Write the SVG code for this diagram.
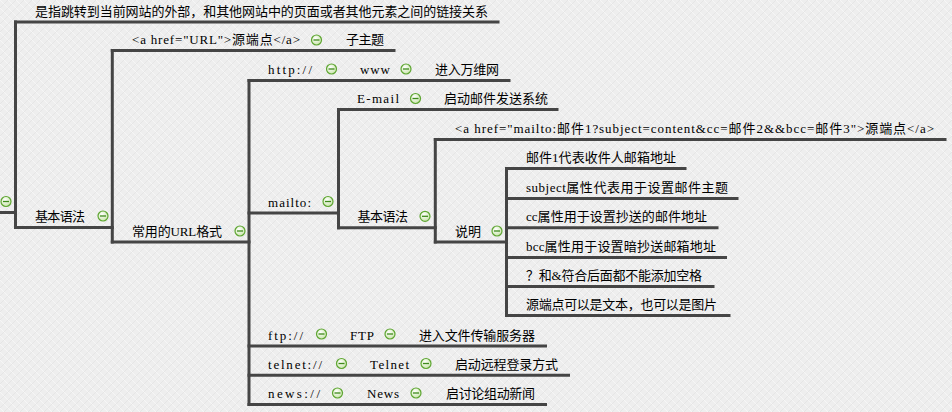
<svg xmlns="http://www.w3.org/2000/svg" xmlns:xlink="http://www.w3.org/1999/xlink" width="952" height="412" viewBox="0 0 952 412">
<style>
.t{font-family:"Liberation Serif","Noto Sans CJK SC",serif;font-size:13px;fill:#000;}
.ln{stroke:#454545;stroke-width:3;fill:none;stroke-linecap:square;stroke-linejoin:miter;}
</style>
<defs>
<pattern id="bg" width="8" height="8" patternUnits="userSpaceOnUse">
<rect width="8" height="8" fill="#eeeeee"/>
<path d="M0 8 L8 0" stroke="#e2e2e2" stroke-width="0.8"/>
<path d="M0 0 L8 8" stroke="#f7f7f7" stroke-width="0.8"/>
</pattern>
<radialGradient id="ig" cx="0.4" cy="0.35" r="0.7">
<stop offset="0" stop-color="#ffffff"/>
<stop offset="1" stop-color="#c6e3a6"/>
</radialGradient>
<g id="minus">
<circle r="5" fill="url(#ig)" stroke="#5ea632" stroke-width="1.2"/>
<line x1="-3" y1="0" x2="3" y2="0" stroke="#3f8a1c" stroke-width="1.3"/>
</g>
</defs>
<rect width="952" height="412" fill="url(#bg)"/>

<g id="connectors" class="ln">
<path d="M15.5 22 V227.5"/>
<path d="M112.3 50.5 V242"/>
<path d="M249 80.5 V404.5"/>
<path d="M338.5 109.5 V227.8"/>
<path d="M435.3 139.5 V242"/>
<path d="M506.5 168.5 V315.5"/>
</g>

<g id="root">
<path class="ln" d="M0 212.5 H15.5"/>
<use xlink:href="#minus" x="6" y="201.5"/>
</g>

<g id="n-definition">
<path class="ln" d="M15.5 22 H498"/>
<text class="t" x="35" y="15.5" textLength="453" lengthAdjust="spacing">是指跳转到当前网站的外部，和其他网站中的页面或者其他元素之间的链接关系</text>
</g>

<g id="n-basic1">
<path class="ln" d="M15.5 227.5 H112.3"/>
<text class="t" x="35" y="221" textLength="50" lengthAdjust="spacing">基本语法</text>
<use xlink:href="#minus" x="103" y="216"/>
</g>

<g id="n-ahref">
<path class="ln" d="M112.3 50.5 H394"/>
<text class="t" x="132" y="44" textLength="168" lengthAdjust="spacing">&lt;a href="URL"&gt;源端点&lt;/a&gt;</text>
<use xlink:href="#minus" x="316.5" y="40"/>
<text class="t" x="346" y="44" textLength="38" lengthAdjust="spacing">子主题</text>
</g>

<g id="n-urlformats">
<path class="ln" d="M112.3 242 H249"/>
<text class="t" x="132" y="235.5" textLength="90" lengthAdjust="spacing">常用的URL格式</text>
<use xlink:href="#minus" x="240" y="231"/>
</g>

<g id="n-http">
<path class="ln" d="M249 80.5 H509"/>
<text class="t" x="268" y="74" textLength="44" lengthAdjust="spacing">http://</text>
<use xlink:href="#minus" x="331.5" y="69"/>
<text class="t" x="360" y="74" textLength="30" lengthAdjust="spacing">www</text>
<use xlink:href="#minus" x="406" y="69"/>
<text class="t" x="435" y="74" textLength="64" lengthAdjust="spacing">进入万维网</text>
</g>

<g id="n-mailto">
<path class="ln" d="M249 213 H338.5"/>
<text class="t" x="268" y="206.5" textLength="43" lengthAdjust="spacing">mailto:</text>
<use xlink:href="#minus" x="328" y="201.5"/>
</g>

<g id="n-ftp">
<path class="ln" d="M249 346 H545.5"/>
<text class="t" x="268" y="339.5" textLength="35" lengthAdjust="spacing">ftp://</text>
<use xlink:href="#minus" x="321.5" y="334"/>
<text class="t" x="350" y="339.5" textLength="24" lengthAdjust="spacing">FTP</text>
<use xlink:href="#minus" x="390" y="334"/>
<text class="t" x="419" y="339.5" textLength="116" lengthAdjust="spacing">进入文件传输服务器</text>
</g>

<g id="n-telnet">
<path class="ln" d="M249 375.3 H568.5"/>
<text class="t" x="268" y="369" textLength="54" lengthAdjust="spacing">telnet://</text>
<use xlink:href="#minus" x="341.5" y="363.5"/>
<text class="t" x="370" y="369" textLength="39" lengthAdjust="spacing">Telnet</text>
<use xlink:href="#minus" x="426" y="363.5"/>
<text class="t" x="455" y="369" textLength="103" lengthAdjust="spacing">启动远程登录方式</text>
</g>

<g id="n-news">
<path class="ln" d="M249 404.5 H545.5"/>
<text class="t" x="268" y="398" textLength="52" lengthAdjust="spacing">news://</text>
<use xlink:href="#minus" x="337.5" y="393"/>
<text class="t" x="367" y="398" textLength="32" lengthAdjust="spacing">News</text>
<use xlink:href="#minus" x="416" y="393"/>
<text class="t" x="446" y="398" textLength="89" lengthAdjust="spacing">启讨论组动新闻</text>
</g>

<g id="n-email">
<path class="ln" d="M338.5 109.5 H557"/>
<text class="t" x="357" y="103" textLength="42" lengthAdjust="spacing">E-mail</text>
<use xlink:href="#minus" x="415.5" y="98.5"/>
<text class="t" x="444" y="103" textLength="104" lengthAdjust="spacing">启动邮件发送系统</text>
</g>

<g id="n-basic2">
<path class="ln" d="M338.5 227.8 H435.3"/>
<text class="t" x="357.5" y="221.3" textLength="50.5" lengthAdjust="spacing">基本语法</text>
<use xlink:href="#minus" x="425" y="216.3"/>
</g>

<g id="n-mailtolink">
<path class="ln" d="M435.3 139.5 H945"/>
<text class="t" x="455" y="133" textLength="479" lengthAdjust="spacing">&lt;a href="mailto:邮件1?subject=content&amp;cc=邮件2&amp;&amp;bcc=邮件3"&gt;源端点&lt;/a&gt;</text>
</g>

<g id="n-note">
<path class="ln" d="M435.3 242 H506.5"/>
<text class="t" x="455" y="235.5" textLength="26" lengthAdjust="spacing">说明</text>
<use xlink:href="#minus" x="497" y="231"/>
</g>

<g id="n-note1">
<path class="ln" d="M506.5 168.5 H685"/>
<text class="t" x="526" y="162" textLength="150" lengthAdjust="spacing">邮件1代表收件人邮箱地址</text>
</g>
<g id="n-note2">
<path class="ln" d="M506.5 198.5 H737"/>
<text class="t" x="526" y="192" textLength="202" lengthAdjust="spacing">subject属性代表用于设置邮件主题</text>
</g>
<g id="n-note3">
<path class="ln" d="M506.5 227.8 H717"/>
<text class="t" x="526" y="221.3" textLength="181" lengthAdjust="spacing">cc属性用于设置抄送的邮件地址</text>
</g>
<g id="n-note4">
<path class="ln" d="M506.5 257.5 H725.5"/>
<text class="t" x="526" y="251" textLength="190" lengthAdjust="spacing">bcc属性用于设置暗抄送邮箱地址</text>
</g>
<g id="n-note5">
<path class="ln" d="M506.5 286.5 H713"/>
<text class="t" x="526" y="280" textLength="176" lengthAdjust="spacing">？和&amp;符合后面都不能添加空格</text>
</g>
<g id="n-note6">
<path class="ln" d="M506.5 315.5 H729"/>
<text class="t" x="526" y="309" textLength="191" lengthAdjust="spacing">源端点可以是文本，也可以是图片</text>
</g>
</svg>
